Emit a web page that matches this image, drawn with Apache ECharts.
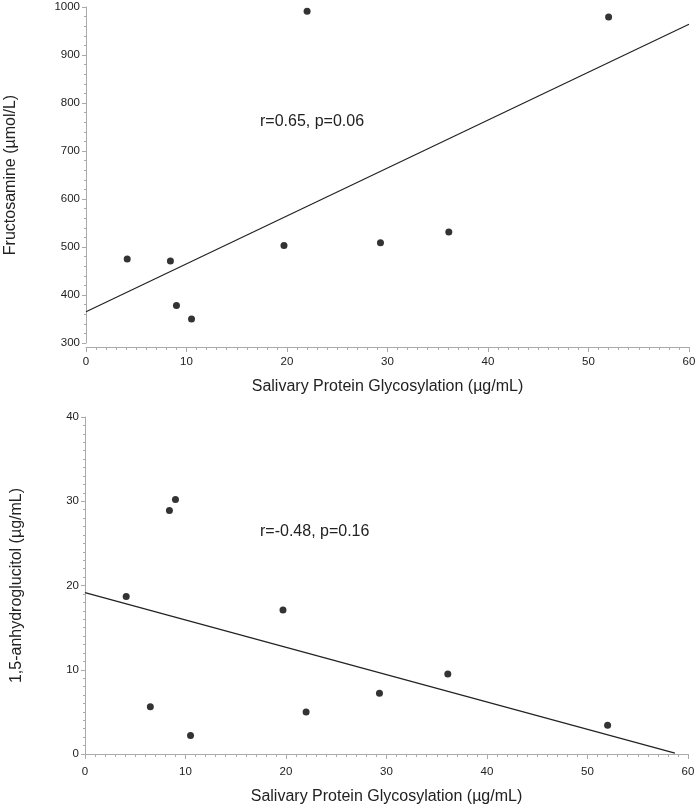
<!DOCTYPE html>
<html>
<head>
<meta charset="utf-8">
<script src="https://cdn.jsdelivr.net/npm/echarts@6/dist/echarts.min.js"></script>
<style>
  html, body { margin: 0; padding: 0; background: #fff; }
  #chart { width: 698px; height: 811px; }
</style>
</head>
<body>
<div id="chart"></div>
<script>
// salivary protein glycosylation (µg/mL)
const glycoTop = [4.1, 8.4, 9.0, 10.5, 19.7, 22.0, 29.3, 36.1, 52.0]
const fructosamine = [475, 471, 378, 350, 503, 991, 509, 531, 979]
const glycoBottom = [4.1, 6.5, 8.4, 9.0, 10.5, 19.7, 22.0, 29.3, 36.1, 52.0]
const anhydroglucitol = [18.7, 5.6, 28.9, 30.2, 2.2, 17.1, 5.0, 7.2, 9.5, 3.4]

// regression lines (end points)
const fitTopX = [0, 60]
const fitTopY = [365, 964]
const fitBottomX = [0, 58.7]
const fitBottomY = [19.15, 0.1]

const FONT = '"Liberation Sans", Arial, sans-serif'
const AXIS_GRAY = '#aaaaaa'

const pairs = (xs, ys) => xs.map((x, i) => [x, ys[i]])

const chart = echarts.init(document.getElementById('chart'))

const xAxisBase = (gridIndex, offset) => ({
    type: 'value',
    gridIndex,
    min: 0,
    max: 60,
    interval: 10,
    offset,
    name: 'Salivary Protein Glycosylation (µg/mL)',
    nameLocation: 'middle',
    nameGap: 32,
    nameTextStyle: { fontFamily: FONT, fontSize: 16, color: '#222' },
    axisLine: { show: true, lineStyle: { color: AXIS_GRAY, width: 1 } },
    axisTick: { show: true, length: 5, lineStyle: { color: AXIS_GRAY } },
    minorTick: { show: true, splitNumber: 10, length: 3, lineStyle: { color: AXIS_GRAY } },
    axisLabel: { fontFamily: FONT, fontSize: 11.5, color: '#222', margin: 9, formatter: v => String(v) },
    splitLine: { show: false }
})

const yAxisBase = (gridIndex, min, max, interval, minorSplit, name, nameGap) => ({
    type: 'value',
    gridIndex,
    min,
    max,
    interval,
    name,
    nameLocation: 'middle',
    nameGap,
    nameTextStyle: { fontFamily: FONT, fontSize: 16, color: '#222' },
    axisLine: { show: true, lineStyle: { color: AXIS_GRAY, width: 1 } },
    axisTick: { show: true, length: 4, lineStyle: { color: AXIS_GRAY } },
    minorTick: { show: true, splitNumber: minorSplit, length: 2, lineStyle: { color: AXIS_GRAY } },
    axisLabel: { fontFamily: FONT, fontSize: 11.5, color: '#222', margin: 6, formatter: v => String(v) },
    splitLine: { show: false }
})

chart.setOption({
    backgroundColor: '#fff',
    animation: false,
    grid: [
        { left: 86, top: 7, right: 9, height: 336, outerBoundsMode: 'none', containLabel: false },
        { left: 85, top: 417, right: 10, height: 337, outerBoundsMode: 'none', containLabel: false }
    ],
    xAxis: [xAxisBase(0, 4), xAxisBase(1, 3)],
    yAxis: [
        yAxisBase(0, 300, 1000, 100, 5, 'Fructosamine (µmol/L)', 67),
        yAxisBase(1, 0, 40, 10, 10, '1,5-anhydroglucitol (µg/mL)', 60)
    ],
    series: [
        {
            type: 'line',
            xAxisIndex: 0,
            yAxisIndex: 0,
            data: pairs(fitTopX, fitTopY),
            symbol: 'none',
            lineStyle: { color: '#222', width: 1.2 },
            silent: true
        },
        {
            type: 'scatter',
            xAxisIndex: 0,
            yAxisIndex: 0,
            data: pairs(glycoTop, fructosamine),
            symbolSize: 7,
            itemStyle: { color: '#000' }
        },
        {
            type: 'line',
            xAxisIndex: 1,
            yAxisIndex: 1,
            data: pairs(fitBottomX, fitBottomY),
            symbol: 'none',
            lineStyle: { color: '#222', width: 1.2 },
            silent: true
        },
        {
            type: 'scatter',
            xAxisIndex: 1,
            yAxisIndex: 1,
            data: pairs(glycoBottom, anhydroglucitol),
            symbolSize: 7,
            itemStyle: { color: '#000' }
        }
    ],
    graphic: [
        {
            type: 'text',
            left: 260,
            top: 114,
            style: { text: 'r=0.65, p=0.06', fontFamily: FONT, fontSize: 16, fill: '#222' }
        },
        {
            type: 'text',
            left: 260,
            top: 524,
            style: { text: 'r=-0.48, p=0.16', fontFamily: FONT, fontSize: 16, fill: '#222' }
        }
    ]
})
</script>
</body>
</html>
